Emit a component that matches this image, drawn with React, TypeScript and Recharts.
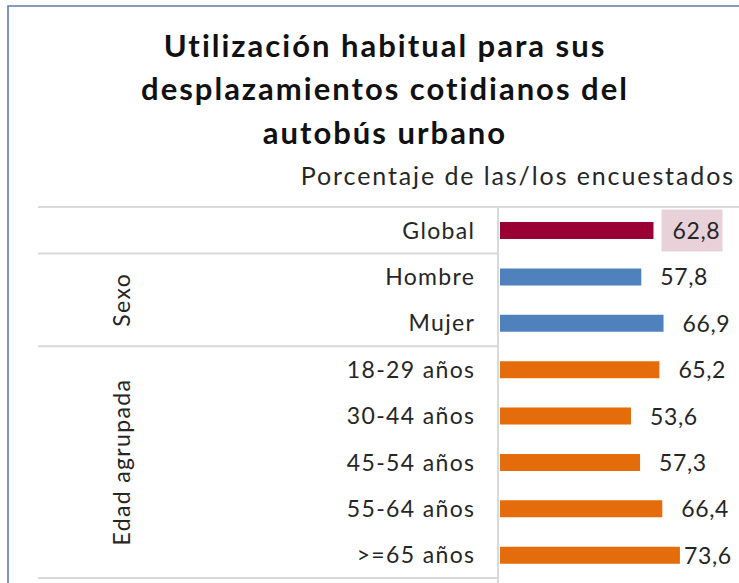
import React from 'react';
import { BarChart, Bar, XAxis, YAxis, Cell, LabelList } from 'recharts';

const categories = ['Global', 'Hombre', 'Mujer', '18-29 años', '30-44 años', '45-54 años', '55-64 años', '>=65 años'];
const values = [62.8, 57.8, 66.9, 65.2, 53.6, 57.3, 66.4, 73.6];
const groupNames = ['', 'Sexo', 'Edad agrupada'];
const groupSizes = [1, 2, 5];
const groupColors = ['#990033', '#4f81bd', '#e46c0a'];
const titleLines = ['Utilización habitual para sus', 'desplazamientos cotidianos del', 'autobús urbano'];
const subtitle = 'Porcentaje de las/los encuestados';

const W = 739;
const H = 583;
const MARGIN = { top: 207, right: 19, bottom: 5, left: 40 };
const Y_AXIS_W = 460;
const FONT = 'Lato, "Open Sans", sans-serif';
const TEXT = '#262626';
const GRID = '#d9d9d9';
const LABEL_MAX_X = 684;
const LABEL_FS = 23;
const LABEL_LS = 1.35;

const rowGroup: number[] = [];
groupSizes.forEach((n, g) => { for (let i = 0; i < n; i++) rowGroup.push(g); });

const data = categories.map((name, i) => ({ name, value: values[i], group: rowGroup[i] }));

const plotTop = MARGIN.top;
const plotBottom = H - MARGIN.bottom;
const plotLeft = MARGIN.left + Y_AXIS_W;
const rowH = (plotBottom - plotTop) / categories.length;

const fmt = (v: number) => v.toFixed(1).replace('.', ',');

const CategoryTick = (props: any) => {
  const { x, y, payload } = props;
  return (
    <text x={x + LABEL_LS} y={y} dy={8.5} textAnchor="end" fontFamily={FONT} fontSize={LABEL_FS} letterSpacing={LABEL_LS} fill={TEXT}>
      {payload.value}
    </text>
  );
};

const ValueLabel = (props: any) => {
  const { x, y, width, height, value, index } = props;
  const cy = Number(y) + Number(height) / 2;
  const lx = Math.min(Number(x) + Number(width) + 19, LABEL_MAX_X);
  return (
    <g>
      {index === 0 && (
        <rect x={lx - 11} y={cy - 21} width={61} height={42} fill="#e8d1d8" />
      )}
      <text x={lx} y={cy} dy={8.5} textAnchor="start" fontFamily={FONT} fontSize={LABEL_FS} letterSpacing={0.6} fill={TEXT}>
        {fmt(Number(value))}
      </text>
    </g>
  );
};

const Overlay = () => {
  const seps: number[] = [];
  const groupCenters: { name: string; cy: number }[] = [];
  let acc = 0;
  groupSizes.forEach((n, g) => {
    const start = plotTop + acc * rowH;
    acc += n;
    const end = plotTop + acc * rowH;
    seps.push(end);
    if (groupNames[g]) groupCenters.push({ name: groupNames[g], cy: (start + end) / 2 });
  });
  const gx = 130;
  return (
    <svg width={W} height={H} style={{ position: 'absolute', left: 0, top: 0 }}>
      <path d={`M8 ${H} L8 6 L${W} 6`} fill="none" stroke="#5f7cab" strokeWidth={1.6} />
      {titleLines.map((t, i) => (
        <text key={i} x={385} y={57 + i * 43.3} textAnchor="middle" fontFamily={FONT} fontWeight={700} fontSize={31} letterSpacing={2} fill="#111">
          {t}
        </text>
      ))}
      <text x={735} y={185} textAnchor="end" fontFamily={FONT} fontSize={25} letterSpacing={1.9} fill={TEXT}>
        {subtitle}
      </text>
      <line x1={38} x2={W} y1={plotTop} y2={plotTop} stroke={GRID} strokeWidth={2} />
      {seps.map((s, i) => (
        <line key={i} x1={38} x2={plotLeft - 2} y1={s} y2={s} stroke={GRID} strokeWidth={2} />
      ))}
      <line x1={plotLeft - 2} x2={plotLeft - 2} y1={plotTop} y2={H} stroke={GRID} strokeWidth={2} />
      {groupCenters.map((g, i) => (
        <text key={i} x={gx} y={g.cy} textAnchor="middle" transform={`rotate(-90 ${gx} ${g.cy})`} fontFamily={FONT} fontSize={LABEL_FS} letterSpacing={LABEL_LS} fill={TEXT}>
          {g.name}
        </text>
      ))}
    </svg>
  );
};

export default function App() {
  return (
    <div style={{ position: 'absolute', left: 0, top: 0, width: W, height: H, background: '#fff', overflow: 'hidden' }}>
      <Overlay />
      <div style={{ position: 'absolute', left: 0, top: 0 }}>
        <BarChart width={W} height={H} data={data} layout="vertical" margin={MARGIN} barCategoryGap={0}>
          <XAxis type="number" dataKey="value" domain={[0, 90]} hide />
          <YAxis type="category" dataKey="name" width={Y_AXIS_W} axisLine={false} tickLine={false} tickMargin={20} tick={<CategoryTick />} interval={0} />
          <Bar dataKey="value" barSize={17} isAnimationActive={false}>
            {data.map((d, i) => (
              <Cell key={i} fill={groupColors[d.group]} />
            ))}
            <LabelList dataKey="value" content={<ValueLabel />} />
          </Bar>
        </BarChart>
      </div>
    </div>
  );
}
